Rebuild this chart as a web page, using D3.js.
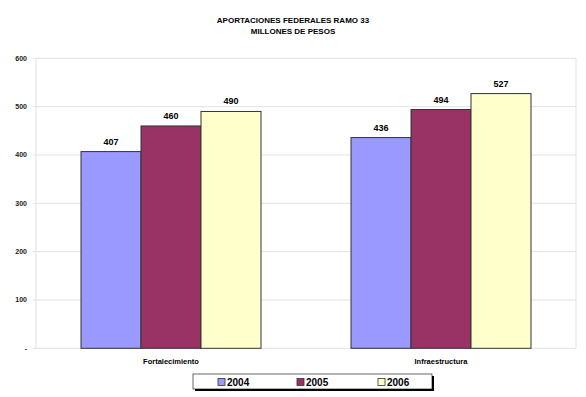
<!DOCTYPE html>
<html>
<head>
<meta charset="utf-8">
<script src="https://cdn.jsdelivr.net/npm/d3@7"></script>
<style>
  body { margin: 0; background: #fff; }
  text { font-family: Arial, "Liberation Sans", sans-serif; font-weight: bold; fill: #000; }
</style>
</head>
<body>
<script>

var categories = ['Fortalecimiento', 'Infraestructura'];
var years = ['2004', '2005', '2006'];
var v2004 = [407, 436];
var v2005 = [460, 494];
var v2006 = [490, 527];
var yTicks = [0, 100, 200, 300, 400, 500, 600];
var colors = ['#9999ff', '#993366', '#ffffcc'];

var series = [v2004, v2005, v2006];

var svg = d3.select('body').append('svg')
      .attr('width', 586)
      .attr('height', 397);

// titulo
svg.append('text')
    .attr('x', 293).attr('y', 23)
    .attr('text-anchor', 'middle')
    .style('font-size', '8px')
    .text('APORTACIONES FEDERALES RAMO 33');
svg.append('text')
    .attr('x', 293).attr('y', 33.5)
    .attr('text-anchor', 'middle')
    .style('font-size', '8px')
    .text('MILLONES DE PESOS');

var plotL = 36, plotR = 576, plotT = 58.3, plotB = 348.3;

var y = d3.scaleLinear().domain([0, 600]).range([plotB, plotT]);
var x0 = d3.scaleBand().domain(categories).range([plotL, plotR]);
var x1 = d3.scaleBand().domain(years).range([0, x0.bandwidth()]).paddingOuter(0.75);

// grid
svg.selectAll('.grid')
    .data(yTicks)
  .enter().append('line')
    .attr('class', 'grid')
    .attr('x1', plotL - 3).attr('x2', plotR)
    .attr('y1', function(d) { return y(d); })
    .attr('y2', function(d) { return y(d); })
    .attr('stroke', '#e2e2e2')
    .attr('stroke-width', 1);

svg.append('path')
    .attr('d', 'M ' + plotL + ' ' + plotT + ' V ' + plotB + ' M ' + plotR + ' ' + plotT + ' V ' + plotB)
    .attr('fill', 'none')
    .attr('stroke', '#e2e2e2')
    .attr('stroke-width', 1);

// y labels
svg.selectAll('.ylabel')
    .data(yTicks)
  .enter().append('text')
    .attr('class', 'ylabel')
    .attr('x', 27)
    .attr('y', function(d) { return y(d) + 2.5; })
    .attr('text-anchor', 'end')
    .style('font-size', '7px')
    .style('fill', '#222')
    .text(function(d) { return d === 0 ? '-' : d; });

// barras
var groups = svg.selectAll('.grp')
    .data(categories)
  .enter().append('g')
    .attr('class', 'grp')
    .attr('transform', function(d) { return 'translate(' + x0(d) + ',0)'; });

groups.selectAll('rect')
    .data(function(d, i) { return years.map(function(yr, j) { return {yr: yr, v: series[j][i], c: colors[j]}; }); })
  .enter().append('rect')
    .attr('x', function(d) { return x1(d.yr); })
    .attr('y', function(d) { return y(d.v); })
    .attr('width', x1.bandwidth())
    .attr('height', function(d) { return plotB - y(d.v); })
    .attr('fill', function(d) { return d.c; })
    .attr('stroke', '#333')
    .attr('stroke-width', 1);

groups.selectAll('.val')
    .data(function(d, i) { return years.map(function(yr, j) { return {yr: yr, v: series[j][i]}; }); })
  .enter().append('text')
    .attr('class', 'val')
    .attr('x', function(d) { return x1(d.yr) + x1.bandwidth() / 2; })
    .attr('y', function(d) { return y(d.v) - 7; })
    .attr('text-anchor', 'middle')
    .style('font-size', '9px')
    .text(function(d) { return d.v; });

// categorias
svg.selectAll('.xlabel')
    .data(categories)
  .enter().append('text')
    .attr('class', 'xlabel')
    .attr('x', function(d) { return x0(d) + x0.bandwidth() / 2; })
    .attr('y', 364)
    .attr('text-anchor', 'middle')
    .style('font-size', '7.5px')
    .text(function(d) { return d; });

// leyenda
svg.append('rect')
    .attr('x', 195).attr('y', 376)
    .attr('width', 239).attr('height', 15)
    .attr('fill', '#000');
svg.append('rect')
    .attr('x', 193).attr('y', 374)
    .attr('width', 239).attr('height', 15)
    .attr('fill', '#fff')
    .attr('stroke', '#000')
    .attr('stroke-width', 0.6);

var legX = [218, 297, 378];
var leg = svg.selectAll('.leg')
    .data(years)
  .enter().append('g')
    .attr('class', 'leg')
    .attr('transform', function(d, i) { return 'translate(' + legX[i] + ',0)'; });

leg.append('rect')
    .attr('x', 0).attr('y', 378.5)
    .attr('width', 7).attr('height', 7)
    .attr('fill', function(d, i) { return colors[i]; })
    .attr('stroke', '#333')
    .attr('stroke-width', 0.8);

leg.append('text')
    .attr('x', 9).attr('y', 386)
    .style('font-size', '10px')
    .text(function(d) { return d; });

</script>
</body>
</html>
